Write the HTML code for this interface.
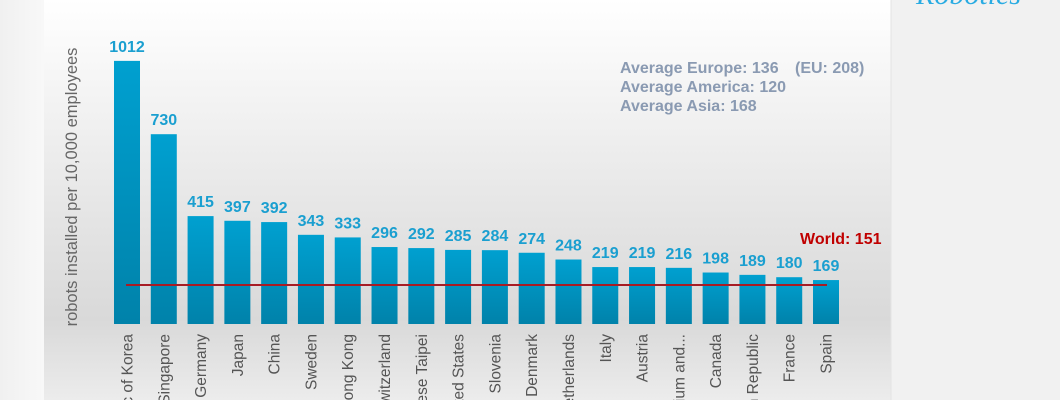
<!DOCTYPE html>
<html><head><meta charset="utf-8"><style>
html,body{margin:0;padding:0;width:1060px;height:400px;overflow:hidden;background:#f2f2f2}
svg{display:block;overflow:hidden}
</style></head><body>
<svg width="1060" height="400" xmlns="http://www.w3.org/2000/svg" font-family="Liberation Sans, Arial, sans-serif">
<defs>
<linearGradient id="bg" x1="0" y1="0" x2="0" y2="1">
<stop offset="0" stop-color="#ffffff"/>
<stop offset="0.25" stop-color="#f3f3f3"/>
<stop offset="0.6" stop-color="#e2e2e2"/>
<stop offset="0.8" stop-color="#d9d9d9"/>
<stop offset="1" stop-color="#ececec"/>
</linearGradient>
<linearGradient id="bar" x1="0" y1="0" x2="0" y2="1">
<stop offset="0" stop-color="#00a0d0"/>
<stop offset="1" stop-color="#0082aa"/>
</linearGradient>
<linearGradient id="left" x1="0" y1="0" x2="1" y2="0">
<stop offset="0" stop-color="#f0f0f0"/>
<stop offset="1" stop-color="#f8f8f8"/>
</linearGradient>
<clipPath id="c"><rect x="0" y="0" width="1060" height="400"/></clipPath>
</defs>
<g clip-path="url(#c)">
<rect x="0" y="0" width="44" height="400" fill="url(#left)"/>
<rect x="44" y="0" width="847" height="400" fill="url(#bg)"/>
<rect x="891" y="0" width="169" height="400" fill="#f1f1f1"/>
<line x1="891" y1="0" x2="891" y2="400" stroke="#e4e4e4"/>
<text x="916" y="4" font-family="Liberation Serif, serif" font-style="italic" font-size="30" fill="#29abe2">Robotics</text>
<text transform="translate(77,187) rotate(-90)" text-anchor="middle" font-size="16.5" fill="#666">robots installed per 10,000 employees</text>
<g id="bars"></g>
<line x1="126" y1="285" x2="827" y2="285" stroke="#a81c24" stroke-width="2"/>
<g font-weight="bold" font-size="16" fill="#8a9ab2">
<text x="620" y="73">Average Europe: 136</text><text x="795" y="73">(EU: 208)</text>
<text x="620" y="92">Average America: 120</text>
<text x="620" y="111">Average Asia: 168</text>
</g>
<text x="800" y="244" font-weight="bold" font-size="16" fill="#c00000">World: 151</text>
</g>
</svg>
<script>
var d=[["Republic of Korea",1012],["Singapore",730],["Germany",415],["Japan",397],["China",392],["Sweden",343],["Hong Kong",333],["Switzerland",296],["Chinese Taipei",292],["United States",285],["Slovenia",284],["Denmark",274],["Netherlands",248],["Italy",219],["Austria",219],["Belgium and...",216],["Canada",198],["Czech Republic",189],["France",180],["Spain",169]];
var g=document.getElementById("bars"),s="";
d.forEach(function(e,i){var x=114+i*36.79,h=e[1]*0.26,y=324-h,cx=x+13;
s+='<rect x="'+x+'" y="'+y+'" width="26" height="'+h+'" fill="url(#bar)"/>';
s+='<text x="'+cx+'" y="'+(y-9)+'" text-anchor="middle" font-weight="bold" font-size="16" fill="#1a9fd0">'+e[1]+'</text>';
s+='<text transform="translate('+(cx+5.5)+',334) rotate(-90)" text-anchor="end" font-size="15.5" fill="#555">'+e[0]+'</text>';});
g.innerHTML=s;
</script>
</body></html>
